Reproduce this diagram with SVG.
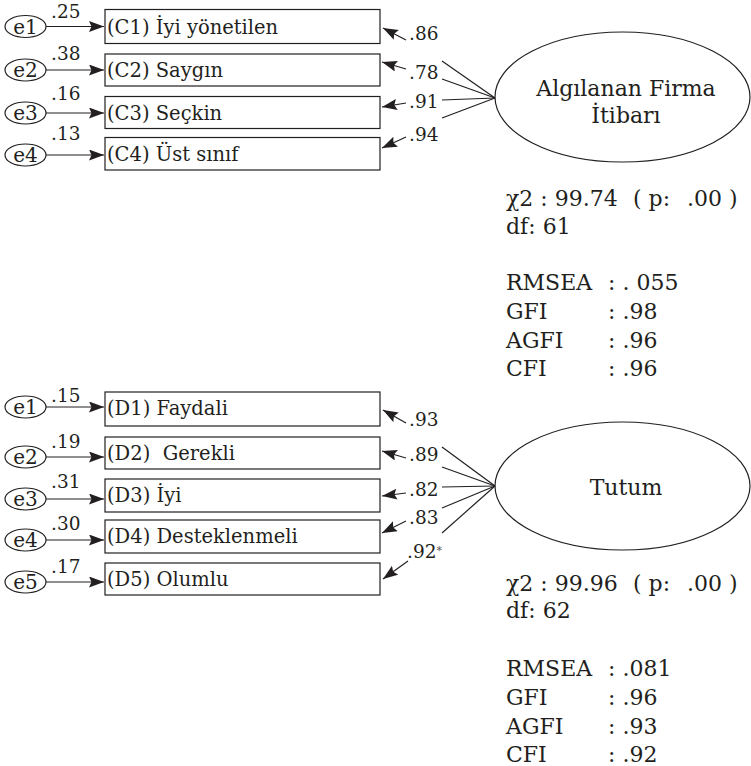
<svg xmlns="http://www.w3.org/2000/svg" width="751" height="766" viewBox="0 0 751 766">
  <style>
    text { font-family: "DejaVu Serif", "Liberation Serif", serif; fill: #231f20; }
    .item { font-size: 19.5px; }
    .err { font-size: 20px; text-anchor: middle; }
    .coef { font-size: 18.5px; }
    .latent { font-size: 22px; text-anchor: middle; }
    .stat { font-size: 22px; }
    .star { font-size: 11px; fill: #555; }
    rect, ellipse { fill: #fff; stroke: #231f20; stroke-width: 1.2; }
    .conn line { stroke: #231f20; stroke-width: 1.2; }
    .conn .arr { marker-end: url(#head); }
  </style>
  <defs>
    <marker id="head" markerUnits="userSpaceOnUse" markerWidth="16" markerHeight="12" refX="15" refY="5.5" orient="auto">
      <path d="M0,0 L15,5.5 L0,11 L2.5,5.5 z" fill="#231f20"/>
    </marker>
  </defs>

  <!-- Model 1: Algılanan Firma İtibarı -->
  <g id="e1a"><ellipse cx="25.5" cy="26.5" rx="20.5" ry="11"/><text class="err" x="25.5" y="33.5">e1</text></g>
  <g id="e2a"><ellipse cx="25.5" cy="70" rx="20.5" ry="11"/><text class="err" x="25.5" y="77">e2</text></g>
  <g id="e3a"><ellipse cx="25.5" cy="113" rx="20.5" ry="11"/><text class="err" x="25.5" y="120">e3</text></g>
  <g id="e4a"><ellipse cx="25.5" cy="155" rx="20.5" ry="11"/><text class="err" x="25.5" y="162">e4</text></g>

  <g id="c1"><rect x="105" y="9.5" width="275" height="34"/><text class="item" x="107" y="33.5">(C1) İyi yönetilen</text></g>
  <g id="c2"><rect x="105" y="54" width="275" height="32"/><text class="item" x="107" y="77">(C2) Saygın</text></g>
  <g id="c3"><rect x="105" y="96.5" width="275" height="32"/><text class="item" x="107" y="119.5">(C3) Seçkin</text></g>
  <g id="c4"><rect x="105" y="137.5" width="275" height="32.5"/><text class="item" x="107" y="160.5">(C4) Üst sınıf</text></g>

  <g id="fi">
    <ellipse cx="622.5" cy="97" rx="127.5" ry="65"/>
    <text class="latent" x="626" y="96">Algılanan Firma</text>
    <text class="latent" x="626" y="123">İtibarı</text>
  </g>

  <g id="fit1">
    <text class="stat" x="506" y="206">χ2 : 99.74</text>
    <text class="stat" x="633" y="206">( p:</text>
    <text class="stat" x="687" y="206">.00 )</text>
    <text class="stat" x="506" y="234">df: 61</text>
    <text class="stat" x="506" y="290">RMSEA</text><text class="stat" x="608" y="290">: . 055</text>
    <text class="stat" x="506" y="319">GFI</text><text class="stat" x="608" y="319">: .98</text>
    <text class="stat" x="506" y="348">AGFI</text><text class="stat" x="608" y="348">: .96</text>
    <text class="stat" x="506" y="376">CFI</text><text class="stat" x="608" y="376">: .96</text>
  </g>

  <!-- Model 2: Tutum -->
  <g id="e1b"><ellipse cx="25.5" cy="407" rx="20.5" ry="11"/><text class="err" x="25.5" y="414">e1</text></g>
  <g id="e2b"><ellipse cx="25.5" cy="457" rx="20.5" ry="11"/><text class="err" x="25.5" y="464">e2</text></g>
  <g id="e3b"><ellipse cx="25.5" cy="499" rx="20.5" ry="11"/><text class="err" x="25.5" y="506">e3</text></g>
  <g id="e4b"><ellipse cx="25.5" cy="540" rx="20.5" ry="11"/><text class="err" x="25.5" y="547">e4</text></g>
  <g id="e5b"><ellipse cx="25.5" cy="582" rx="20.5" ry="11"/><text class="err" x="25.5" y="589">e5</text></g>

  <g id="d1"><rect x="105" y="392" width="275" height="34"/><text class="item" x="107" y="415">(D1) Faydali</text></g>
  <g id="d2"><rect x="105" y="437" width="275" height="32"/><text class="item" x="107" y="460" xml:space="preserve">(D2)  Gerekli</text></g>
  <g id="d3"><rect x="105" y="479" width="275" height="33"/><text class="item" x="107" y="502">(D3) İyi</text></g>
  <g id="d4"><rect x="105" y="520" width="275" height="33"/><text class="item" x="107" y="543">(D4) Desteklenmeli</text></g>
  <g id="d5"><rect x="105" y="563" width="275" height="32"/><text class="item" x="107" y="586">(D5) Olumlu</text></g>

  <g id="tutum">
    <ellipse cx="622.5" cy="486" rx="127.5" ry="64"/>
    <text class="latent" x="626" y="495">Tutum</text>
  </g>

  <g id="fit2">
    <text class="stat" x="506" y="591">χ2 : 99.96</text>
    <text class="stat" x="633" y="591">( p:</text>
    <text class="stat" x="687" y="591">.00 )</text>
    <text class="stat" x="506" y="618">df: 62</text>
    <text class="stat" x="506" y="676">RMSEA</text><text class="stat" x="608" y="676">: .081</text>
    <text class="stat" x="506" y="705">GFI</text><text class="stat" x="608" y="705">: .96</text>
    <text class="stat" x="506" y="734">AGFI</text><text class="stat" x="608" y="734">: .93</text>
    <text class="stat" x="506" y="762">CFI</text><text class="stat" x="608" y="762">: .92</text>
  </g>

  <!-- Paths, error terms and loadings -->
  <g id="connectors" class="conn">
    <!-- model 1: errors to items -->
    <line class="arr" x1="46" y1="26.5" x2="104" y2="26.5"/>
    <line class="arr" x1="46" y1="70" x2="104" y2="70"/>
    <line class="arr" x1="46" y1="113" x2="104" y2="113"/>
    <line class="arr" x1="46" y1="155" x2="104" y2="155"/>
    <!-- model 1: factor to items -->
    <line x1="495" y1="98" x2="442" y2="61"/>
    <line x1="495" y1="98" x2="442" y2="79"/>
    <line x1="495" y1="98" x2="442" y2="100"/>
    <line x1="495" y1="98" x2="442" y2="118"/>
    <line class="arr" x1="406" y1="40" x2="383" y2="28"/>
    <line class="arr" x1="406" y1="69" x2="382" y2="62"/>
    <line class="arr" x1="406" y1="103" x2="382" y2="107"/>
    <line class="arr" x1="406" y1="137" x2="382" y2="148"/>

    <!-- model 2: errors to items -->
    <line class="arr" x1="46" y1="407" x2="104" y2="407"/>
    <line class="arr" x1="46" y1="457" x2="104" y2="457"/>
    <line class="arr" x1="46" y1="499" x2="104" y2="499"/>
    <line class="arr" x1="46" y1="540" x2="104" y2="540"/>
    <line class="arr" x1="46" y1="582" x2="104" y2="582"/>
    <!-- model 2: factor to items -->
    <line x1="495" y1="486" x2="442" y2="447"/>
    <line x1="495" y1="486" x2="442" y2="467"/>
    <line x1="495" y1="486" x2="442" y2="487"/>
    <line x1="495" y1="486" x2="442" y2="508"/>
    <line x1="495" y1="486" x2="442" y2="533"/>
    <line class="arr" x1="406" y1="423" x2="383" y2="410"/>
    <line class="arr" x1="406" y1="458" x2="382" y2="451"/>
    <line class="arr" x1="406" y1="493" x2="382" y2="496"/>
    <line class="arr" x1="406" y1="521" x2="382" y2="533"/>
    <line class="arr" x1="408" y1="561" x2="383" y2="579"/>
  </g>

  <g id="loadings">
    <text class="coef" x="51" y="18">.25</text>
    <text class="coef" x="51" y="60">.38</text>
    <text class="coef" x="51" y="100">.16</text>
    <text class="coef" x="51" y="140">.13</text>
    <text class="coef" x="409" y="40">.86</text>
    <text class="coef" x="409" y="79">.78</text>
    <text class="coef" x="409" y="108">.91</text>
    <text class="coef" x="409" y="141">.94</text>

    <text class="coef" x="51" y="402">.15</text>
    <text class="coef" x="51" y="448">.19</text>
    <text class="coef" x="51" y="488">.31</text>
    <text class="coef" x="51" y="530">.30</text>
    <text class="coef" x="51" y="573">.17</text>
    <text class="coef" x="409" y="426">.93</text>
    <text class="coef" x="409" y="461">.89</text>
    <text class="coef" x="409" y="496">.82</text>
    <text class="coef" x="409" y="524">.83</text>
    <text class="coef" x="407" y="558">.92<tspan class="star" dy="-4">*</tspan></text>
  </g>
</svg>
